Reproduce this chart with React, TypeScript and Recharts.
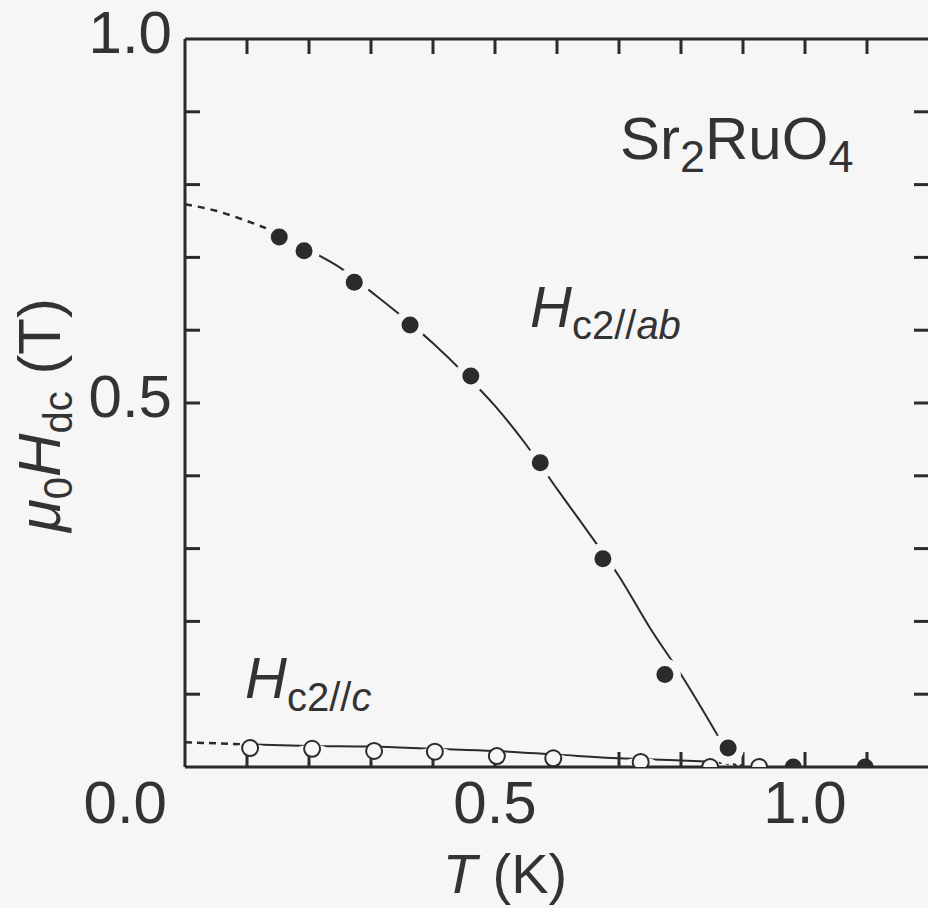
import React from 'react';
import { ComposedChart, XAxis, YAxis, Line, Scatter, Customized } from 'recharts';

// measured Hc2 // ab (filled circles)
const abT = [0.152, 0.192, 0.273, 0.363, 0.461, 0.573, 0.674, 0.774, 0.876, 0.981, 1.097];
const abH = [0.728, 0.709, 0.666, 0.607, 0.537, 0.418, 0.286, 0.127, 0.026, 0, 0];

// measured Hc2 // c (open circles)
const cT = [0.105, 0.205, 0.305, 0.403, 0.503, 0.594, 0.735, 0.847, 0.926];
const cH = [0.026, 0.025, 0.022, 0.021, 0.015, 0.012, 0.007, 0.0, 0.0];

// guide line through the ab points
const abFitT = [0.134, 0.2, 0.25, 0.3, 0.35, 0.4, 0.45, 0.5, 0.55, 0.6, 0.65, 0.7, 0.75, 0.8, 0.858];
const abFitH = [0.739, 0.71, 0.686, 0.653, 0.619, 0.582, 0.541, 0.496, 0.443, 0.382, 0.323, 0.262, 0.191, 0.127, 0.045];
// dotted extrapolations of the ab line
const abLowT = [0, 0.05, 0.1, 0.134];
const abLowH = [0.773, 0.764, 0.75, 0.739];
const abHighT = [0.858, 0.89];
const abHighH = [0.045, 0.0];

// guide line through the c points
const cFitT = [0.1, 0.2, 0.3, 0.4, 0.5, 0.6, 0.7, 0.8, 0.85];
const cFitH = [0.031, 0.029, 0.028, 0.025, 0.022, 0.017, 0.012, 0.009, 0.007];
const cLowT = [0, 0.1];
const cLowH = [0.034, 0.031];
const cHighT = [0.85, 0.9];
const cHighH = [0.007, 0.002];

const X_TICKS = [0, 0.1, 0.2, 0.3, 0.4, 0.5, 0.6, 0.7, 0.8, 0.9, 1.0, 1.1, 1.2];
const Y_TICKS = [0, 0.1, 0.2, 0.3, 0.4, 0.5, 0.6, 0.7, 0.8, 0.9, 1.0];
const X_LABEL_AT = [0, 0.5, 1.0];
const X_LABEL_TEXT = ['0.0', '0.5', '1.0'];
const Y_LABEL_AT = [0.5, 1.0];
const Y_LABEL_TEXT = ['0.5', '1.0'];

const INK = '#2b2b2b';
const TEXT = '#333333';
const BG = '#f6f6f7';
const FONT = '"Liberation Sans", Arial, sans-serif';
const TICK_LEN = 15;
const TICK_W = 3;
const W = 945;
const H = 908;

const pts = (ts: number[], hs: number[]) => ts.map((T, i) => ({ T, H: hs[i] }));

const abPts = pts(abT, abH);
const cPts = pts(cT, cH);
const abFit = pts(abFitT, abFitH);
const abLow = pts(abLowT, abLowH);
const abHigh = pts(abHighT, abHighH);
const cFit = pts(cFitT, cFitH);
const cLow = pts(cLowT, cLowH);
const cHigh = pts(cHighT, cHighH);

const AXIS = { stroke: INK, strokeWidth: 3 };

const isEdge = (v: number, lo: number, hi: number) => Math.abs(v - lo) < 1e-6 || Math.abs(v - hi) < 1e-6;

// inward tick marks are drawn here (tickSize is negative, so x/y sit at the inner end)
const BottomTick = (props: any) => {
  const { x, y, payload } = props;
  const i = X_LABEL_AT.findIndex((v) => Math.abs(v - payload.value) < 1e-6);
  const origin = payload.value === 0;
  return (
    <g>
      {!isEdge(payload.value, 0, 1.2) && (
        <line x1={x} x2={x} y1={y} y2={y + TICK_LEN} stroke={INK} strokeWidth={TICK_W} />
      )}
      {i >= 0 && (
        <text x={origin ? x - 18 : x} y={y + 71} textAnchor={origin ? 'end' : 'middle'}
          fontSize={60} fontFamily={FONT} fill={TEXT} stroke="none">
          {X_LABEL_TEXT[i]}
        </text>
      )}
    </g>
  );
};

const TopTick = (props: any) => {
  const { x, y, payload } = props;
  if (isEdge(payload.value, 0, 1.2)) return <g />;
  return <line x1={x} x2={x} y1={y} y2={y - TICK_LEN} stroke={INK} strokeWidth={TICK_W} />;
};

const LeftTick = (props: any) => {
  const { x, y, payload } = props;
  const i = Y_LABEL_AT.findIndex((v) => Math.abs(v - payload.value) < 1e-6);
  return (
    <g>
      {!isEdge(payload.value, 0, 1) && (
        <line x1={x} x2={x - TICK_LEN} y1={y} y2={y} stroke={INK} strokeWidth={TICK_W} />
      )}
      {i >= 0 && (
        <text x={x - 28} y={y + 14} textAnchor="end" fontSize={60} fontFamily={FONT} fill={TEXT} stroke="none">
          {Y_LABEL_TEXT[i]}
        </text>
      )}
    </g>
  );
};

const RightTick = (props: any) => {
  const { x, y, payload } = props;
  if (isEdge(payload.value, 0, 1)) return <g />;
  return <line x1={x} x2={x + TICK_LEN} y1={y} y2={y} stroke={INK} strokeWidth={TICK_W} />;
};

// filled marker, with a background halo so the guide line breaks around it
const FilledDot = (p: any) => (
  <g>
    {p.payload.H > 0.01 && <circle cx={p.cx} cy={p.cy} r={16} fill={BG} />}
    <circle cx={p.cx} cy={p.cy} r={8.5} fill={INK} />
  </g>
);

const OpenDot = (p: any) => (
  <g>
    {p.payload.H > 0.004 && <ellipse cx={p.cx} cy={p.cy} rx={15} ry={4} fill={BG} />}
    <circle cx={p.cx} cy={p.cy} r={8} fill={BG} stroke={INK} strokeWidth={2} />
  </g>
);

const Annotations = () => (
  <g fontFamily={FONT} fill={TEXT} style={{ whiteSpace: 'pre' }}>
    <text x={620} y={159} fontSize={60}>
      Sr<tspan fontSize={45} dy={13}>2</tspan>
      <tspan dy={-13}>RuO</tspan>
      <tspan fontSize={45} dy={13}>4</tspan>
    </text>
    <text x={530} y={327} fontSize={58}>
      <tspan fontStyle="italic">H</tspan>
      <tspan fontSize={40} dy={12}>c2//</tspan>
      <tspan fontSize={40} fontStyle="italic">ab</tspan>
    </text>
    <text x={245} y={698} fontSize={58}>
      <tspan fontStyle="italic">H</tspan>
      <tspan fontSize={40} dy={13}>c2//</tspan>
      <tspan fontSize={40} fontStyle="italic">c</tspan>
    </text>
    <text transform="translate(60,415) rotate(-90)" textAnchor="middle" fontSize={60}>
      <tspan fontStyle="italic">μ</tspan>
      <tspan fontSize={40} dy={12}>0</tspan>
      <tspan fontStyle="italic" dy={-12}>H</tspan>
      <tspan fontSize={40} dy={12}>dc</tspan>
      <tspan dy={-12}> (T)</tspan>
    </text>
    <text x={505} y={893} textAnchor="middle" fontSize={56}>
      <tspan fontStyle="italic">T</tspan>
      <tspan> (K)</tspan>
    </text>
  </g>
);

const App: React.FC = () => {
  // two charts stacked with identical plot areas: the frame, ticks and guide lines below,
  // the markers on top so they cover the inward ticks like in the original figure
  return (
    <div style={{ position: 'absolute', left: 0, top: 0, width: 928, height: 908, overflow: 'hidden', background: BG }}>
      <div style={{ position: 'absolute', left: 0, top: 0 }}>
        <ComposedChart width={W} height={H} margin={{ top: 19, right: 6, bottom: 41, left: 85 }}>
          <XAxis xAxisId="b" type="number" dataKey="T" domain={[0, 1.2]} ticks={X_TICKS} interval={0}
            height={100} tickSize={-TICK_LEN} tickMargin={0}
            axisLine={AXIS} tickLine={false} tick={<BottomTick />} allowDataOverflow />
          <XAxis xAxisId="t" orientation="top" type="number" dataKey="T" domain={[0, 1.2]} ticks={X_TICKS} interval={0}
            height={20} tickSize={-TICK_LEN} tickMargin={0}
            axisLine={AXIS} tickLine={false} tick={<TopTick />} allowDataOverflow />
          <YAxis yAxisId="l" type="number" dataKey="H" domain={[0, 1]} ticks={Y_TICKS} interval={0}
            width={100} tickSize={-TICK_LEN} tickMargin={0}
            axisLine={AXIS} tickLine={false} tick={<LeftTick />} allowDataOverflow />
          <YAxis yAxisId="r" orientation="right" type="number" domain={[0, 1]} ticks={Y_TICKS} interval={0}
            width={10} tickSize={-TICK_LEN} tickMargin={0}
            axisLine={false} tickLine={false} tick={<RightTick />} allowDataOverflow />

          <Line xAxisId="b" yAxisId="l" data={abLow} dataKey="H" type="monotone" stroke={INK} strokeWidth={2.5}
            strokeDasharray="7 6" dot={false} activeDot={false} isAnimationActive={false} />
          <Line xAxisId="b" yAxisId="l" data={abFit} dataKey="H" type="monotone" stroke={INK} strokeWidth={2}
            dot={false} activeDot={false} isAnimationActive={false} />
          <Line xAxisId="b" yAxisId="l" data={abHigh} dataKey="H" type="monotone" stroke={INK} strokeWidth={2}
            strokeDasharray="3 4" dot={false} activeDot={false} isAnimationActive={false} />
          <Line xAxisId="b" yAxisId="l" data={cLow} dataKey="H" type="monotone" stroke={INK} strokeWidth={2.5}
            strokeDasharray="7 5" dot={false} activeDot={false} isAnimationActive={false} />
          <Line xAxisId="b" yAxisId="l" data={cFit} dataKey="H" type="monotone" stroke={INK} strokeWidth={2}
            dot={false} activeDot={false} isAnimationActive={false} />
          <Line xAxisId="b" yAxisId="l" data={cHigh} dataKey="H" type="monotone" stroke={INK} strokeWidth={2}
            strokeDasharray="3 4" dot={false} activeDot={false} isAnimationActive={false} />

          <Customized component={Annotations} />
        </ComposedChart>
      </div>
      <div style={{ position: 'absolute', left: 0, top: 0 }}>
        <ComposedChart width={W} height={H} margin={{ top: 39, right: 16, bottom: 141, left: 185 }}>
          <XAxis type="number" dataKey="T" domain={[0, 1.2]} hide allowDataOverflow />
          <YAxis type="number" dataKey="H" domain={[0, 1]} hide allowDataOverflow />
          <Scatter data={cPts} shape={OpenDot} isAnimationActive={false} />
          <Scatter data={abPts} shape={FilledDot} isAnimationActive={false} />
        </ComposedChart>
      </div>
    </div>
  );
};

export default App;
